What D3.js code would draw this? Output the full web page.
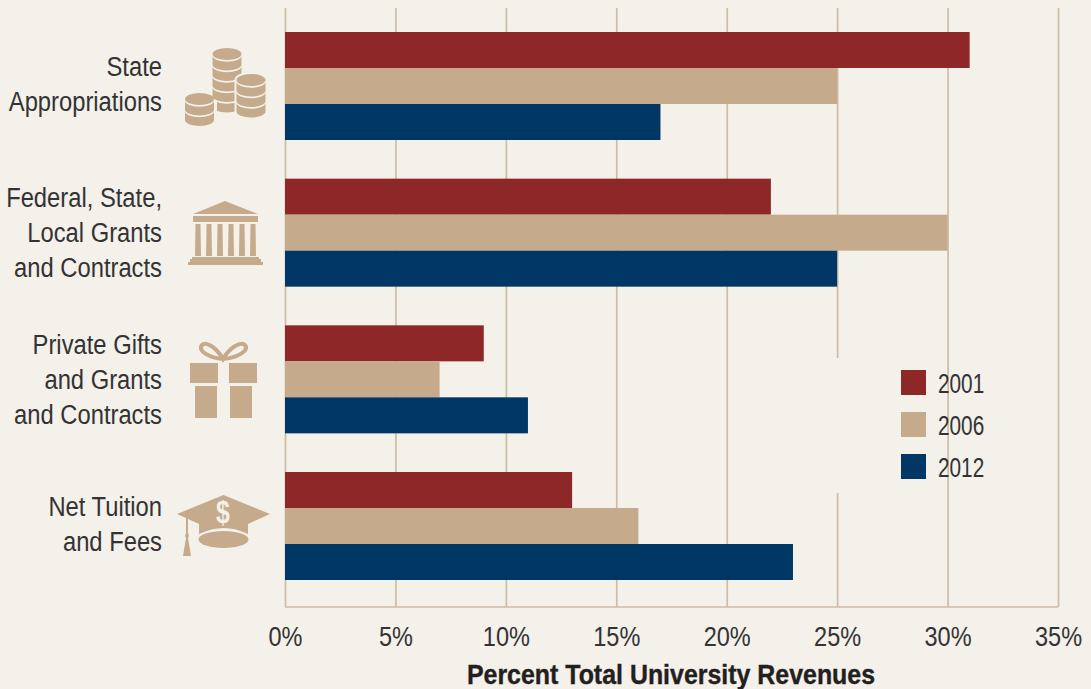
<!DOCTYPE html>
<html>
<head>
<meta charset="utf-8">
<script src="https://cdn.jsdelivr.net/npm/d3@7"></script>
<style>
html, body { margin: 0; padding: 0; background: #f4f0ea; }
svg { display: block; }
text { font-family: "Liberation Sans", sans-serif; fill: #333; }
</style>
</head>
<body>
<script>
var categories = ['State Appropriations', 'Federal, State, Local Grants and Contracts',
    'Private Gifts and Grants and Contracts', 'Net Tuition and Fees'];
var categoryLines = [
    ['State', 'Appropriations'],
    ['Federal, State,', 'Local Grants', 'and Contracts'],
    ['Private Gifts', 'and Grants', 'and Contracts'],
    ['Net Tuition', 'and Fees']
];
var years = ['2001', '2006', '2012'];
var values2001 = [31, 22, 9, 13];
var values2006 = [25, 30, 7, 16];
var values2012 = [17, 25, 11, 23];
var seriesValues = [values2001, values2006, values2012];
var xTicks = [0, 5, 10, 15, 20, 25, 30, 35];
var colors = ['#8e2828', '#c5ab8b', '#003764'];

var bg = '#f4f0ea', tan = '#c5ab8b', gridColor = '#cfbca5';

var svg = d3.select('body').append('svg')
    .attr('width', 1091)
    .attr('height', 689)
    .style('background', bg);

// no condensed font installed, so squeeze the text to the width it has in the picture
function squeeze(sel, factor) {
    sel.each(function() {
        d3.select(this)
            .attr('textLength', this.getComputedTextLength() * factor)
            .attr('lengthAdjust', 'spacingAndGlyphs');
    });
}

var x = d3.scaleLinear().domain([0, 35]).range([285, 1058]);

var y = d3.scaleBand()
    .domain(categories)
    .range([32, 580])
    .paddingInner(0.2636)
    .paddingOuter(0);

var ySeries = d3.scaleBand()
    .domain(years)
    .range([0, y.bandwidth()]);

// grid and bottom axis
var xAxis = d3.axisBottom(x)
    .tickValues(xTicks)
    .tickFormat(function(d) { return d + '%'; })
    .tickSize(-599)
    .tickPadding(19);

var axisG = svg.append('g')
    .attr('transform', 'translate(0,607)')
    .call(xAxis);
axisG.select('.domain')
    .attr('d', 'M285,0H1058')
    .attr('stroke', gridColor)
    .attr('stroke-width', 1.7);
axisG.selectAll('.tick line')
    .attr('stroke', gridColor)
    .attr('stroke-width', 1.7);
axisG.selectAll('.tick text')
    .style('font-size', '28px')
    .attr('dy', '0.73em')
    .style('fill', '#333')
    .call(squeeze, 0.84);

// bars
years.forEach(function(year, s) {
    svg.append('g').selectAll('rect')
        .data(seriesValues[s])
        .enter()
        .append('rect')
        .attr('x', x(0))
        .attr('y', function(d, i) { return y(categories[i]) + ySeries(year); })
        .attr('width', function(d) { return x(d) - x(0); })
        .attr('height', ySeries.bandwidth())
        .attr('fill', colors[s]);
});

// category labels
var labelCenters = [84, 233, 380, 524];
categoryLines.forEach(function(lines, i) {
    lines.forEach(function(line, j) {
        svg.append('text')
            .attr('x', 162)
            .attr('y', labelCenters[i] + (j - (lines.length - 1) / 2) * 35 + 9)
            .attr('text-anchor', 'end')
            .style('font-size', '27px')
            .text(line)
            .call(squeeze, 0.88);
    });
});

// axis title
svg.append('text')
    .attr('x', 671)
    .attr('y', 684)
    .attr('text-anchor', 'middle')
    .style('font-size', '28px')
    .style('font-weight', 'bold')
    .style('fill', '#231f20')
    .style('stroke', '#231f20')
    .style('stroke-width', 0.4)
    .text('Percent Total University Revenues')
    .call(squeeze, 0.89);

// legend, sits on a patch that breaks the 25% gridline
svg.append('rect')
    .attr('x', x(25) - 3)
    .attr('y', 358)
    .attr('width', 6)
    .attr('height', 135)
    .attr('fill', bg);

var legendY = d3.scalePoint().domain(years).range([370, 454]);
var legend = svg.append('g').selectAll('g')
    .data(years)
    .enter()
    .append('g')
    .attr('transform', function(d) { return 'translate(901,' + legendY(d) + ')'; });
legend.append('rect')
    .attr('width', 25)
    .attr('height', 25)
    .attr('fill', function(d, i) { return colors[i]; });
legend.append('text')
    .attr('x', 37)
    .attr('y', 22.5)
    .style('font-size', '27px')
    .text(function(d) { return d; })
    .call(squeeze, 0.77);

// icons
var icons = svg.append('g').attr('fill', tan);

function coinStack(cx, top, layers) {
    var g = icons.append('g');
    var rx = 14.5, ry = 6, step = 10.5;
    for (var i = layers; i > 0; i--) {
        var yy = top + ry + i * step;
        g.append('path')
            .attr('d', 'M' + (cx - rx) + ',' + (yy - step + 1.8) +
                'V' + yy +
                'A' + rx + ',' + ry + ' 0 0 0 ' + (cx + rx) + ',' + yy +
                'V' + (yy - step + 1.8) +
                'A' + rx + ',' + ry + ' 0 0 1 ' + (cx - rx) + ',' + (yy - step + 1.8) + 'Z');
    }
    g.append('ellipse')
        .attr('cx', cx).attr('cy', top + ry)
        .attr('rx', rx).attr('ry', ry);
}

coinStack(227, 48, 5);
icons.append('path')
    .attr('fill', bg)
    .attr('d', 'M210,100H217V112H210Z');
icons.append('ellipse')
    .attr('cx', 251).attr('cy', 80)
    .attr('rx', 16.5).attr('ry', 8)
    .attr('fill', bg);
icons.append('rect')
    .attr('x', 234.5).attr('y', 80).attr('width', 33).attr('height', 36)
    .attr('fill', bg);
coinStack(251, 74, 3);
coinStack(199.5, 93, 2);

// bank
icons.append('path').attr('d', 'M225,201L258,214H193Z');
icons.append('rect').attr('x', 193).attr('y', 216).attr('width', 65).attr('height', 6);
[198, 209, 220, 231, 242, 253].forEach(function(cx) {
    icons.append('path')
        .attr('d', 'M' + (cx - 2.5) + ',224H' + (cx + 2.5) + 'V226L' + (cx + 3) + ',256H' + (cx - 3) + 'L' + (cx - 2.5) + ',226Z');
});
icons.append('path').attr('d', 'M192,257H259V259H261V262H263V265H188V262H190V259H192Z');

// gift
icons.append('rect').attr('x', 190).attr('y', 363).attr('width', 28).attr('height', 20);
icons.append('rect').attr('x', 229).attr('y', 363).attr('width', 28).attr('height', 20);
icons.append('rect').attr('x', 195).attr('y', 386).attr('width', 22).attr('height', 32);
icons.append('rect').attr('x', 230).attr('y', 386).attr('width', 22).attr('height', 32);
icons.append('path')
    .attr('fill', 'none')
    .attr('stroke', tan)
    .attr('stroke-width', 4)
    .attr('d', 'M223,359C216,347 206,341 202,345C197,351 210,358 223,359C236,358 250,351 245,345C241,341 230,347 223,359Z');

// cap
icons.append('path').attr('d', 'M223.5,495L270,514L248,524V534Q224,522 199,534V524L177,514Z');
icons.append('ellipse').attr('cx', 223.5).attr('cy', 539.5).attr('rx', 25).attr('ry', 8.5);
icons.append('path').attr('d', 'M186,518H188V533L189,536L188,538L191,556H183L186,538L185,536L186,533Z');
svg.append('text')
    .attr('x', 223)
    .attr('y', 523)
    .attr('text-anchor', 'middle')
    .style('font-size', '31px')
    .style('font-weight', 'bold')
    .style('fill', bg)
    .text('$')
    .call(squeeze, 0.8);
</script>
</body>
</html>
